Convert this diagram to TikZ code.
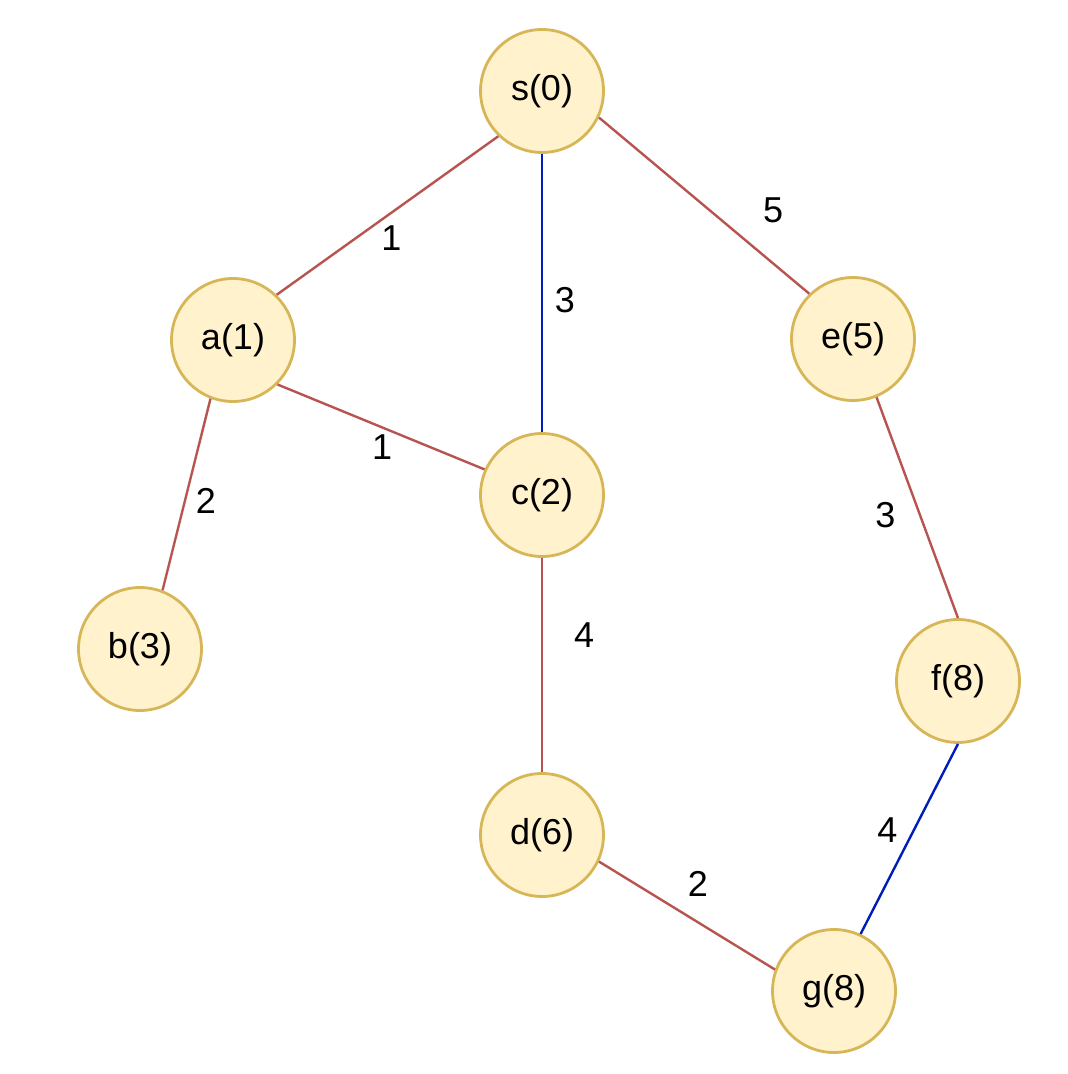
\documentclass[tikz,border=0pt]{standalone}
\usepackage{fontspec}
\setmainfont{Liberation Sans}
\usetikzlibrary{positioning}

\definecolor{vfill}{HTML}{FFF2CC}
\definecolor{vline}{HTML}{D6B656}
\definecolor{ered}{HTML}{B85450}
\definecolor{eblue}{HTML}{001DBC}

\begin{document}
\begin{tikzpicture}[x=0.5pt,y=-0.5pt,
  vertex/.style={circle,draw=vline,fill=vfill,line width=1.4pt,minimum size=61.5pt,inner sep=0pt,font=\fontsize{18}{21}\selectfont},
  wt/.style={text=black,font=\fontsize{18}{21}\selectfont,inner sep=0pt},
  redge/.style={ered,line width=1.2pt},
  bedge/.style={eblue,line width=1.2pt}]

\useasboundingbox (0,0) rectangle (1068,1074);

\node[vertex] (s) at (542,91) {s(0)};
\node[vertex] (a) at (233,340) {a(1)};
\node[vertex] (e) at (853,339) {e(5)};
\node[vertex] (c) at (542,495) {c(2)};
\node[vertex] (b) at (140,649) {b(3)};
\node[vertex] (f) at (958,681) {f(8)};
\node[vertex] (d) at (542,835) {d(6)};
\node[vertex] (g) at (834,991) {g(8)};

\draw[redge] (s.-134)-- node[wt,shift={(4,23)}] {1} (a.46);
\draw[bedge] (s.-90)-- node[wt,shift={(23,7)}] {3} (c.90);
\draw[redge] (s.-25)-- node[wt,shift={(69,5)}] {5} (e.134);

\draw[redge] (a.-45)-- node[wt,shift={(1,20)}] {1} (c.156);
\draw[redge] (a.-111)-- node[wt,shift={(19.5,6)}] {2} (b.69);

\draw[redge] (c.-90)-- node[wt,shift={(42,-30)}] {4} (d.90);
\draw[redge] (e.-68)-- node[wt,shift={(-32,7.5)}] {3} (f.90);

\draw[bedge] (f.-90)-- node[wt,shift={(-22,-9)}] {4} (g.65);
\draw[redge] (d.-25)-- node[wt,shift={(11,-32)}] {2} (g.160);

\end{tikzpicture}
\end{document}
